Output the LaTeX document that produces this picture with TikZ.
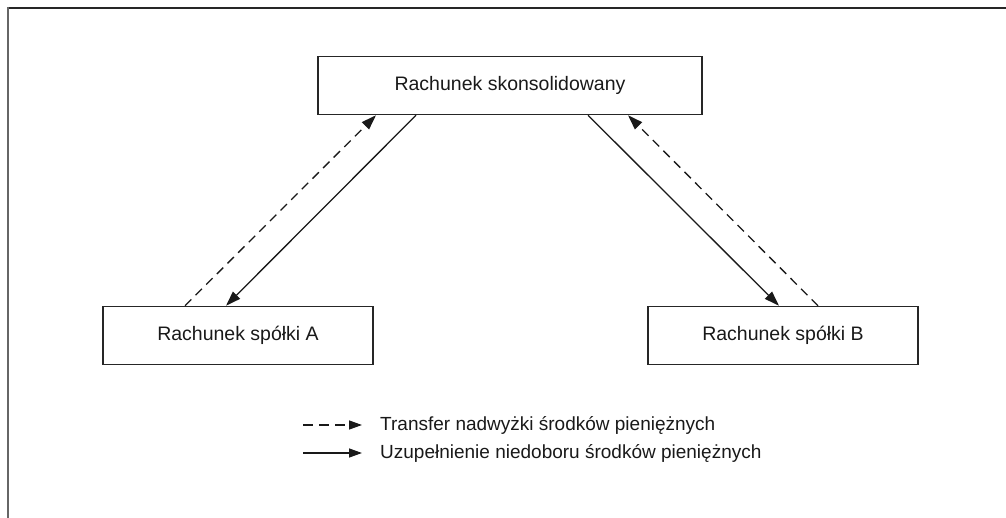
\documentclass[tikz,border=0pt]{standalone}
\usepackage{fontspec}
\setmainfont{Liberation Sans}
\usetikzlibrary{arrows.meta}
\begin{document}
\begin{tikzpicture}[x=1pt,y=-1pt,
  box/.style={draw=black!85, line width=1.5pt, minimum width=#1, minimum height=58pt, inner sep=0pt, font=\fontsize{19.5}{23}\selectfont, text=black!90},
  solidarr/.style={line width=1.3pt, draw=black!90, -{Triangle[length=15pt,width=10pt]}},
  dasharr/.style={line width=1.3pt, draw=black!90, dash pattern=on 9pt off 6pt, -{Triangle[length=15pt,width=10pt]}},
  legarr/.style={line width=1.3pt, draw=black!90, -{Triangle[length=13pt,width=9pt]}},
  legdash/.style={line width=1.3pt, draw=black!90, dash pattern=on 10pt off 6pt, -{Triangle[length=13pt,width=9pt]}},
  legtext/.style={anchor=west, inner sep=0pt, font=\fontsize{19}{23}\selectfont, text=black!90}]
\useasboundingbox (0,0) rectangle (1006,518);
% outer frame
\draw[line width=2pt, black!85] (1006,8) -- (8,8);
\draw[line width=2pt, black!60] (8,7) -- (8,518);
% boxes
\node[box=384pt] (T) at (510,85.5) {Rachunek skonsolidowany};
\node[box=270pt] (A) at (238,335.5) {Rachunek spółki A};
\node[box=270pt] (B) at (783,335.5) {Rachunek spółki B};
% connectors
\draw[dasharr] ([xshift=-53pt]A.north) -- ([xshift=-134pt]T.south);
\draw[solidarr] ([xshift=-94pt]T.south) -- ([xshift=-12pt]A.north);
\draw[solidarr] ([xshift=78pt]T.south) -- ([xshift=-4pt]B.north);
\draw[dasharr] ([xshift=35pt]B.north) -- ([xshift=118pt]T.south);
% legend
\node[legtext] (L1) at (380,425) {Transfer nadwyżki środków pieniężnych};
\node[legtext] (L2) at (380,453) {Uzupełnienie niedoboru środków pieniężnych};
\coordinate (l1s) at (303,425);
\coordinate (l2s) at (303,453);
\draw[legdash] (l1s) -- ([xshift=-18pt]L1.west);
\draw[legarr] (l2s) -- ([xshift=-18pt]L2.west);
\end{tikzpicture}
\end{document}
